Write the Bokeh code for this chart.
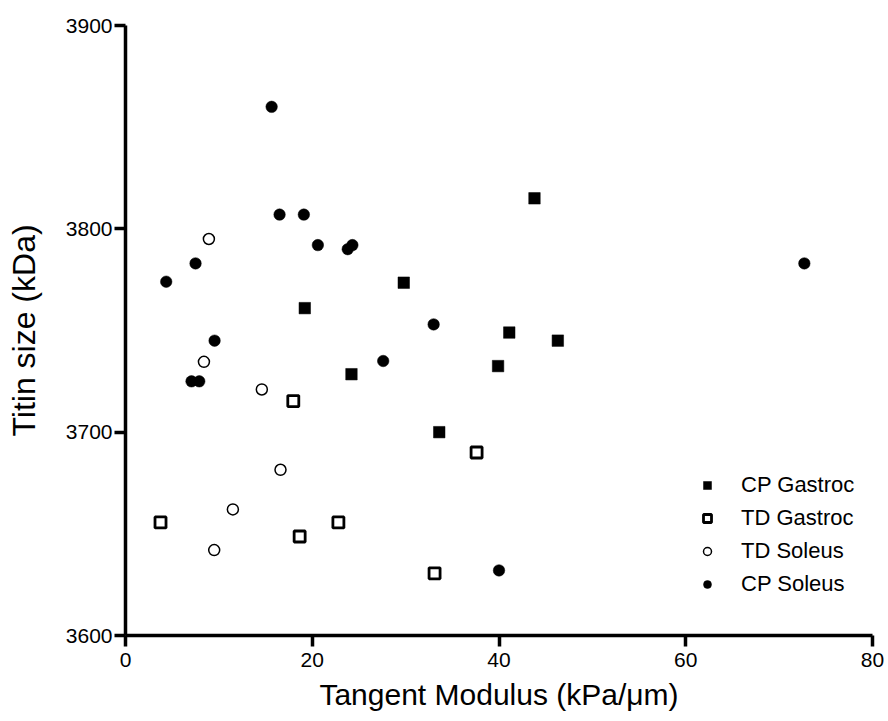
from bokeh.plotting import figure
from bokeh.models import Range1d, Legend, LegendItem, FixedTicker
from bokeh.embed import file_html
from bokeh.resources import INLINE

# CP Gastroc (filled squares)
cpg_x = [19.2, 24.2, 33.6, 39.9, 41.1, 46.3, 43.8, 29.8]
cpg_y = [3761, 3728.5, 3700, 3732.5, 3749, 3745, 3815, 3773.5]

# TD Gastroc (open squares)
tdg_x = [3.75, 17.97, 18.65, 22.8, 33.1, 37.6]
tdg_y = [3655.6, 3715.3, 3648.7, 3655.6, 3630.6, 3690]

# TD Soleus (open circles)
tds_x = [8.93, 8.4, 14.6, 16.6, 11.5, 9.5]
tds_y = [3795, 3734.6, 3721, 3681.5, 3662, 3642]

# CP Soleus (filled circles)
cps_x = [15.65, 16.5, 19.1, 20.6, 24.3, 23.8, 7.5, 4.36, 9.54, 7.07, 7.9, 27.6, 40.0, 72.7, 33.0]
cps_y = [3860, 3807, 3807, 3792, 3792, 3790, 3783, 3774, 3745, 3725, 3725, 3735, 3632, 3783, 3753]

x_ticks = [0, 20, 40, 60, 80]
y_ticks = [3600, 3700, 3800, 3900]

FONT = "Liberation Sans"

p = figure(width=888, height=721, output_backend="svg", toolbar_location=None,
           x_range=Range1d(0, 80), y_range=Range1d(3600, 3900),
           min_border_left=125, min_border_right=16, min_border_top=25, min_border_bottom=86)
p.outline_line_color = None
p.grid.visible = False
p.background_fill_color = "white"
p.border_fill_color = "white"

p.xaxis.ticker = FixedTicker(ticks=x_ticks)
p.yaxis.ticker = FixedTicker(ticks=y_ticks)
for ax in (p.xaxis, p.yaxis):
    ax.axis_line_width = 3.5
    ax.axis_line_color = "black"
    ax.major_tick_line_width = 3.5
    ax.major_tick_line_color = "black"
    ax.major_tick_in = 0
    ax.major_tick_out = 11
    ax.minor_tick_line_color = None
    ax.major_label_text_font = FONT
    ax.major_label_text_font_size = "21px"
    ax.major_label_text_color = "black"
    ax.axis_label_text_font = FONT
    ax.axis_label_text_font_style = "normal"
    ax.axis_label_text_color = "black"

p.xaxis.axis_label = "Tangent Modulus (kPa/μm)"
p.xaxis.axis_label_text_font_size = "30px"
p.xaxis.major_label_standoff = 6
p.xaxis.axis_label_standoff = 8
p.yaxis.axis_label = "Titin size (kDa)"
p.yaxis.axis_label_text_font_size = "32px"
p.yaxis.major_label_standoff = 2
p.yaxis.axis_label_standoff = 21

r_cpg = p.scatter(cpg_x, cpg_y, marker="square", size=11.5, fill_color="black", line_color="black", line_width=0.5)
r_tdg = p.scatter(tdg_x, tdg_y, marker="square", size=11, fill_color="white", line_color="black", line_width=2.8)
r_tds = p.scatter(tds_x, tds_y, marker="circle", size=11, fill_color="white", line_color="black", line_width=1.5)
r_cps = p.scatter(cps_x, cps_y, marker="circle", size=11.5, fill_color="black", line_color="black", line_width=0.5)

legend = Legend(items=[
    LegendItem(label="CP Gastroc", renderers=[r_cpg]),
    LegendItem(label="TD Gastroc", renderers=[r_tdg]),
    LegendItem(label="TD Soleus", renderers=[r_tds]),
    LegendItem(label="CP Soleus", renderers=[r_cps]),
], location=(572, 38))
legend.border_line_color = None
legend.background_fill_alpha = 0
legend.padding = 10
legend.spacing = 7
legend.glyph_width = 20
legend.glyph_height = 20
legend.label_height = 20
legend.label_standoff = 24
legend.label_text_font = FONT
legend.label_text_font_size = "22px"
legend.label_text_color = "black"
p.add_layout(legend)

open("out.html", "w").write(file_html(p, INLINE))
